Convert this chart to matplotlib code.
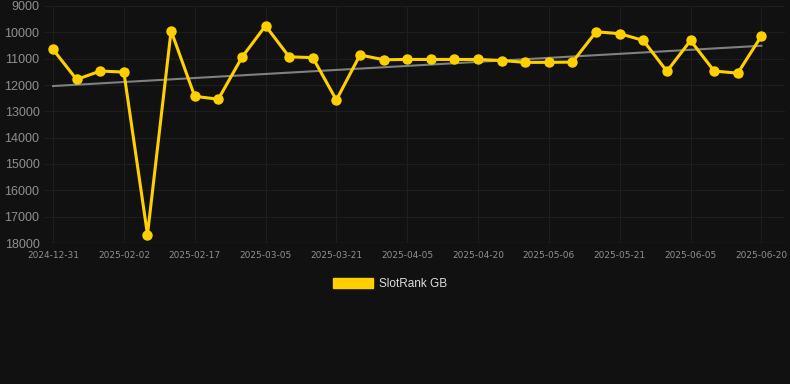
import numpy as np
import matplotlib
matplotlib.use("Agg")
import matplotlib.pyplot as plt
from matplotlib.patches import Patch

dates = ["2024-12-31", "2025-01-10", "2025-01-21", "2025-02-02", "2025-02-07",
         "2025-02-12", "2025-02-17", "2025-02-22", "2025-02-28", "2025-03-05",
         "2025-03-10", "2025-03-15", "2025-03-21", "2025-03-26", "2025-03-31",
         "2025-04-05", "2025-04-10", "2025-04-15", "2025-04-20", "2025-04-25",
         "2025-05-01", "2025-05-06", "2025-05-11", "2025-05-16", "2025-05-21",
         "2025-05-26", "2025-05-31", "2025-06-05", "2025-06-10", "2025-06-15",
         "2025-06-20"]
rank = [10650, 11790, 11470, 11510, 17680, 9940, 12430, 12540, 10950, 9750,
        10930, 10960, 12570, 10860, 11040, 11030, 11030, 11030, 11030, 11070,
        11140, 11140, 11130, 9980, 10050, 10310, 11480, 10310, 11470, 11550,
        10140]
trend_ends = [12040, 10510]
yticks = [9000, 10000, 11000, 12000, 13000, 14000, 15000, 16000, 17000, 18000]

bg = "#111111"
gold = "#FFD000"

fig = plt.figure(figsize=(7.9, 3.84), dpi=100, facecolor=bg)
ax = fig.add_axes([45 / 790, 1 - 243 / 384, 740 / 790, 237 / 384], facecolor=bg)

x = np.arange(len(dates))
ax.plot([x[0], x[-1]], trend_ends, color="#808080", lw=1.5, zorder=2)
ax.plot(x, rank, color=gold, lw=2.2, marker="o", ms=6.5, zorder=3)

ax.set_xlim(-0.34, 31.0)
ax.set_ylim(18000, 9000)
ax.set_yticks(yticks)
ax.set_xticks(x[::3])
ax.set_xticklabels(dates[::3])

ax.grid(True, color="#1e1e1e", lw=0.8)
ax.set_axisbelow(True)
for s in ax.spines.values():
    s.set_visible(False)
ax.axhline(18000, color="#2a2a2a", lw=1, zorder=1)
ax.tick_params(axis="y", length=0, pad=4, labelcolor="#8f8f8f")
ax.tick_params(axis="x", length=0, pad=6, labelsize=6.5, labelcolor="#8f8f8f")
for t in ax.get_yticklabels():
    t.set_fontfamily("Liberation Sans")
    t.set_fontsize(9)

leg = fig.legend(handles=[Patch(facecolor=gold, edgecolor=gold)], labels=["SlotRank GB"],
                 loc="center", bbox_to_anchor=(390 / 790, 1 - 284 / 384),
                 frameon=False, handlelength=3.4, handleheight=1.0, handletextpad=0.5,
                 prop={"family": "Liberation Sans", "size": 8.5})
for t in leg.get_texts():
    t.set_color("#dddddd")

fig.savefig("out.png", dpi=100, facecolor=bg)
